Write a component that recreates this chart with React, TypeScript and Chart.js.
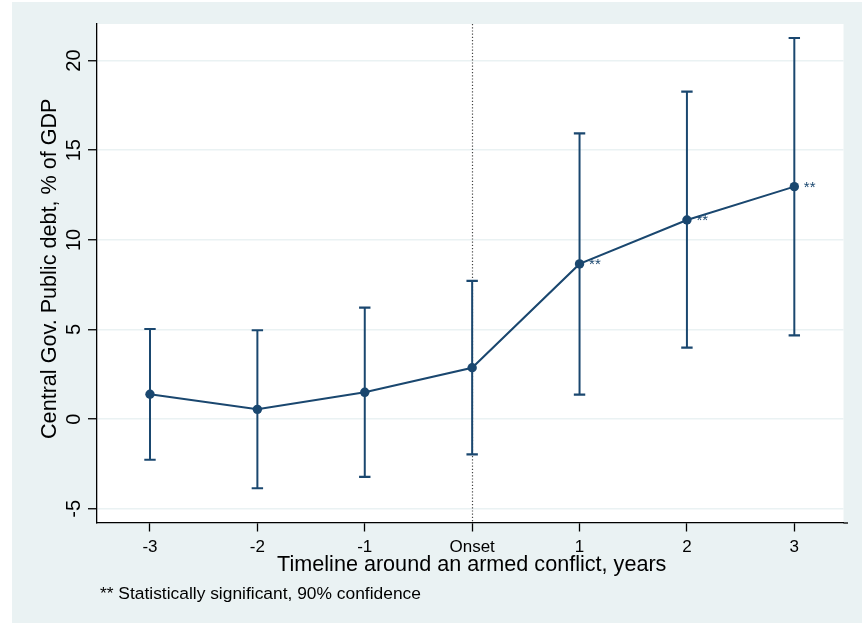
import React, { useEffect, useRef } from 'react';
import { Chart, registerables } from 'chart.js';

Chart.register(...registerables);

// ---- data ----
const categories = ['-3', '-2', '-1', 'Onset', '1', '2', '3'];
const periods = [-3, -2, -1, 0, 1, 2, 3];
const estimates = [1.39, 0.55, 1.5, 2.87, 8.66, 11.11, 12.97];
const upperBounds = [5.03, 4.96, 6.22, 7.71, 15.94, 18.27, 21.26];
const lowerBounds = [-2.26, -3.85, -3.22, -1.96, 1.37, 3.99, 4.68];
const significant = [false, false, false, false, true, true, true];
const yTicks = [-5, 0, 5, 10, 15, 20];
const yTitle = 'Central Gov. Public debt, % of GDP';
const xTitle = 'Timeline around an armed conflict, years';
const footnote = '** Statistically significant, 90% confidence';
const starLabel = '**';
const onsetPeriod = 0;

// ---- styles ----
const NAVY = '#1A476F';
const BG = '#EAF2F3';
const FONT = '"Liberation Sans", Arial, Helvetica, sans-serif';

const ciData: { x: number; y: number | null }[] = [];
periods.forEach((p, i) => {
  ciData.push({ x: p, y: lowerBounds[i] });
  ciData.push({ x: p, y: upperBounds[i] });
  ciData.push({ x: p, y: null });
});
const pointData = periods.map((p, i) => ({ x: p, y: estimates[i] }));

const decorPlugin = {
  id: 'decor',
  beforeDraw(chart: any) {
    const { ctx, width, height, chartArea } = chart;
    ctx.save();
    ctx.fillStyle = '#ffffff';
    ctx.fillRect(0, 0, width, height);
    ctx.fillStyle = BG;
    ctx.fillRect(12, 2, width - 12, height - 2);
    ctx.fillStyle = '#ffffff';
    ctx.fillRect(chartArea.left, chartArea.top, chartArea.right - chartArea.left, chartArea.bottom - chartArea.top);
    ctx.restore();
  },
  beforeDatasetsDraw(chart: any) {
    const { ctx, chartArea, scales } = chart;
    const x = Math.round(scales.x.getPixelForValue(onsetPeriod)) + 0.5;
    ctx.save();
    ctx.strokeStyle = '#444444';
    ctx.lineWidth = 1.2;
    ctx.setLineDash([1.2, 2]);
    ctx.beginPath();
    ctx.moveTo(x, chartArea.top);
    ctx.lineTo(x, chartArea.bottom);
    ctx.stroke();
    ctx.restore();
  },
  afterDatasetsDraw(chart: any) {
    const { ctx, scales } = chart;
    ctx.save();
    ctx.fillStyle = NAVY;
    ctx.font = `15px ${FONT}`;
    ctx.textAlign = 'left';
    ctx.textBaseline = 'alphabetic';
    periods.forEach((p, i) => {
      if (!significant[i]) return;
      const px = scales.x.getPixelForValue(p);
      const py = scales.y.getPixelForValue(estimates[i]);
      ctx.fillText(starLabel, px + 9.5, py + 5);
    });
    ctx.restore();
  },
  afterDraw(chart: any) {
    const { ctx, scales, chartArea } = chart;
    ctx.save();
    // small extension of the x axis line beyond the plot region
    ctx.strokeStyle = '#000000';
    ctx.lineWidth = 1.3;
    ctx.beginPath();
    ctx.moveTo(chartArea.right, chartArea.bottom + 0.5);
    ctx.lineTo(chartArea.right + 4.5, chartArea.bottom + 0.5);
    ctx.stroke();

    ctx.fillStyle = '#000000';
    // x tick labels
    ctx.font = `17px ${FONT}`;
    ctx.textAlign = 'center';
    ctx.textBaseline = 'alphabetic';
    periods.forEach((p, i) => {
      ctx.fillText(categories[i], scales.x.getPixelForValue(p), 552);
    });
    // y tick labels (rotated)
    ctx.font = `20px ${FONT}`;
    yTicks.forEach((v) => {
      const py = scales.y.getPixelForValue(v);
      ctx.save();
      ctx.translate(80, py);
      ctx.rotate(-Math.PI / 2);
      ctx.textAlign = 'center';
      ctx.fillText(String(v), 0, 0);
      ctx.restore();
    });
    // y title
    ctx.font = `21.6px ${FONT}`;
    ctx.save();
    ctx.translate(56, (chartArea.top + chartArea.bottom) / 2 - 4.5);
    ctx.rotate(-Math.PI / 2);
    ctx.textAlign = 'center';
    ctx.fillText(yTitle, 0, 0);
    ctx.restore();
    // x title
    ctx.textAlign = 'center';
    ctx.fillText(xTitle, (chartArea.left + chartArea.right) / 2 + 1.5, 571);
    // footnote
    ctx.font = `17.4px ${FONT}`;
    ctx.textAlign = 'left';
    ctx.fillText(footnote, 100, 599);
    ctx.restore();
  },
};

export default function App() {
  const ref = useRef<HTMLCanvasElement>(null);
  useEffect(() => {
    if (!ref.current) return;
    const chart = new Chart(ref.current, {
      type: 'line',
      data: {
        datasets: [
          {
            label: '90% CI',
            data: ciData as any,
            borderColor: NAVY,
            borderWidth: 2,
            pointStyle: 'line',
            pointRadius: 5.7,
            pointBorderWidth: 2.2,
            pointBorderColor: NAVY,
            pointBackgroundColor: NAVY,
            spanGaps: false,
            fill: false,
            tension: 0,
          },
          {
            label: 'Estimate',
            data: pointData as any,
            borderColor: NAVY,
            borderWidth: 2,
            pointStyle: 'circle',
            pointRadius: 4.7,
            pointBorderWidth: 0,
            pointBackgroundColor: NAVY,
            fill: false,
            tension: 0,
          },
        ],
      },
      options: {
        responsive: false,
        animation: false,
        devicePixelRatio: 1,
        events: [],
        layout: { padding: { left: 88, top: 24, right: 18.5, bottom: 91.5 } },
        plugins: { legend: { display: false }, tooltip: { enabled: false } },
        scales: {
          x: {
            type: 'linear',
            min: -3.4935,
            max: 3.458,
            afterBuildTicks: (s: any) => {
              s.ticks = periods.map((v) => ({ value: v }));
            },
            afterFit: (s: any) => {
              s.height = 9;
            },
            ticks: { display: false },
            grid: {
              drawOnChartArea: false,
              drawTicks: true,
              tickLength: 9,
              tickColor: '#000000',
              tickWidth: 1.3,
            },
            border: { display: true, color: '#000000', width: 1.3 },
          },
          y: {
            type: 'linear',
            min: -5.76,
            max: 22.04,
            afterBuildTicks: (s: any) => {
              s.ticks = yTicks.map((v) => ({ value: v }));
            },
            afterFit: (s: any) => {
              s.width = 9;
            },
            ticks: { display: false },
            grid: {
              color: BG,
              lineWidth: 1.5,
              drawTicks: true,
              tickLength: 9,
              tickColor: '#000000',
              tickWidth: 1.3,
            },
            border: { display: true, color: '#000000', width: 1.3 },
          },
        },
      },
      plugins: [decorPlugin],
    });
    return () => chart.destroy();
  }, []);
  return (
    <div style={{ position: 'fixed', left: 0, top: 0, width: 862, height: 623 }}>
      <canvas ref={ref} width={862} height={623} style={{ display: 'block', width: 862, height: 623 }} />
    </div>
  );
}
